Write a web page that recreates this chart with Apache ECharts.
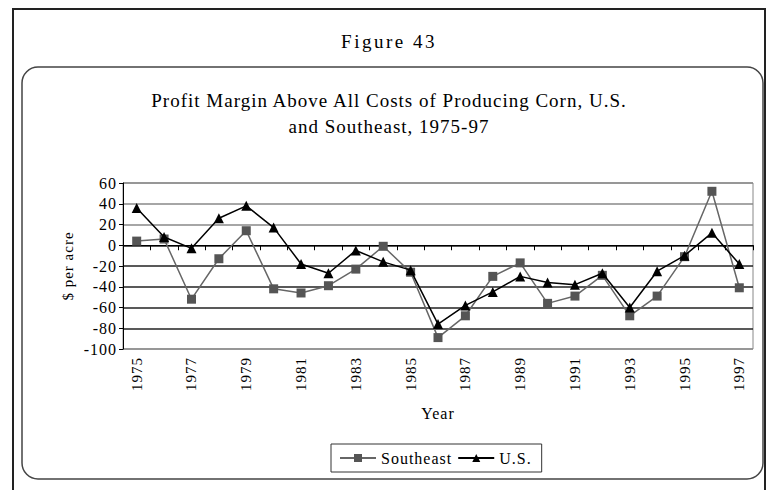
<!DOCTYPE html>
<html>
<head>
<meta charset="utf-8">
<style>
  html, body { margin: 0; padding: 0; background: #fff; }
  #chart { width: 778px; height: 490px; }
  /* tracked serif lettering used throughout the figure */
  #chart svg text {
    font-family: "Liberation Serif", "Times New Roman", serif !important;
    letter-spacing: 1px;
  }
</style>
<script src="https://cdn.jsdelivr.net/npm/echarts@6/dist/echarts.min.js"></script>
</head>
<body>
<div id="chart"></div>
<script>
// Profit margin above all costs of producing corn ($ per acre)
const years = ['1975','1976','1977','1978','1979','1980','1981','1982','1983','1984','1985','1986',
               '1987','1988','1989','1990','1991','1992','1993','1994','1995','1996','1997'];
const southeast = [4, 6, -52, -13, 14, -42, -46, -39, -23, -1, -26, -89,
                   -68, -30, -17, -56, -49, -29, -68, -49, -11, 52, -41];
const us = [36, 8, -3, 26, 38, 17, -18, -27, -5, -16, -24, -76,
            -58, -45, -30, -36, -38, -27, -60, -25, -10, 12, -18];
const yTicks = { min: -100, max: 60, step: 20 };

const figureLabel = 'Figure 43';
const titleLines = ['Profit Margin Above All Costs of Producing Corn, U.S.', 'and Southeast, 1975-97'];

const serif = 'Liberation Serif';
const chart = echarts.init(document.getElementById('chart'), null, { renderer: 'svg' });

chart.setOption({
  animation: false,
  backgroundColor: '#fff',
  textStyle: { fontFamily: serif, color: '#000' },
  graphic: [
    // outer frame (left, top, right)
    { type: 'polyline', shape: { points: [[13, 490], [13, 9], [765, 9], [765, 490]] },
      style: { stroke: '#222', lineWidth: 2, fill: null }, z: 0 },
    // rounded chart box
    { type: 'rect', shape: { x: 22, y: 67, width: 741, height: 412, r: 16 },
      style: { stroke: '#444', lineWidth: 1.5, fill: null }, z: 0 },
    { type: 'text', x: 389, y: 32,
      style: { text: figureLabel, fontSize: 19, fontFamily: serif, fill: '#000', align: 'center', verticalAlign: 'top' } },
    { type: 'text', x: 389, y: 91,
      style: { text: titleLines[0], fontSize: 19, fontFamily: serif, fill: '#000', align: 'center', verticalAlign: 'top' } },
    { type: 'text', x: 389, y: 117,
      style: { text: titleLines[1], fontSize: 19, fontFamily: serif, fill: '#000', align: 'center', verticalAlign: 'top' } }
  ],
  legend: {
    top: 444,
    left: 331,
    data: ['Southeast', 'U.S.'],
    borderColor: '#333',
    borderWidth: 1,
    padding: [6, 14, 6, 8],
    itemGap: 14,
    itemWidth: 36,
    itemHeight: 10,
    textStyle: { fontFamily: serif, fontSize: 16, color: '#000' }
  },
  grid: { left: 123, right: 25, top: 183, bottom: 141, show: true, borderColor: '#888', borderWidth: 1 },
  xAxis: [
    {
      type: 'category',
      data: years,
      position: 'bottom',
      name: 'Year',
      nameLocation: 'middle',
      nameGap: 56,
      nameTextStyle: { fontFamily: serif, fontSize: 16, color: '#000' },
      axisLine: { show: false, onZero: false },
      axisTick: { show: false },
      axisLabel: { interval: 1, rotate: 90, fontFamily: serif, fontSize: 15, color: '#000', margin: 8 }
    },
    {
      type: 'category',
      data: years,
      position: 'bottom',
      axisLine: { show: true, onZero: true, lineStyle: { color: '#000', width: 1 } },
      axisTick: { show: true, interval: 0, length: 5, lineStyle: { color: '#000' } },
      axisLabel: { show: false }
    }
  ],
  yAxis: {
    type: 'value',
    min: yTicks.min,
    max: yTicks.max,
    interval: yTicks.step,
    name: '$ per acre',
    nameLocation: 'middle',
    nameRotate: 90,
    nameGap: 48,
    nameTextStyle: { fontFamily: serif, fontSize: 15, color: '#000' },
    axisLine: { show: true, lineStyle: { color: '#000', width: 1 } },
    axisTick: { show: true, length: 4, lineStyle: { color: '#000' } },
    axisLabel: { fontFamily: serif, fontSize: 16, color: '#000', margin: 6 },
    splitLine: {
      show: true,
      lineStyle: { color: ['#888', '#222', '#222', '#222', '#222', '#222', '#888', '#888', '#888'], width: 1.5 }
    }
  },
  series: [
    {
      name: 'Southeast',
      type: 'line',
      data: southeast,
      symbol: 'rect',
      symbolSize: 9,
      itemStyle: { color: '#555' },
      lineStyle: { color: '#666', width: 1.5 },
      z: 3
    },
    {
      name: 'U.S.',
      type: 'line',
      data: us,
      symbol: 'triangle',
      symbolSize: 10,
      itemStyle: { color: '#000' },
      lineStyle: { color: '#000', width: 1.5 },
      z: 4
    }
  ]
});

// wider tracking for the figure number
document.querySelectorAll('#chart svg text').forEach(function (t) {
  if (t.textContent === figureLabel) t.style.letterSpacing = '2.5px';
});
</script>
</body>
</html>
